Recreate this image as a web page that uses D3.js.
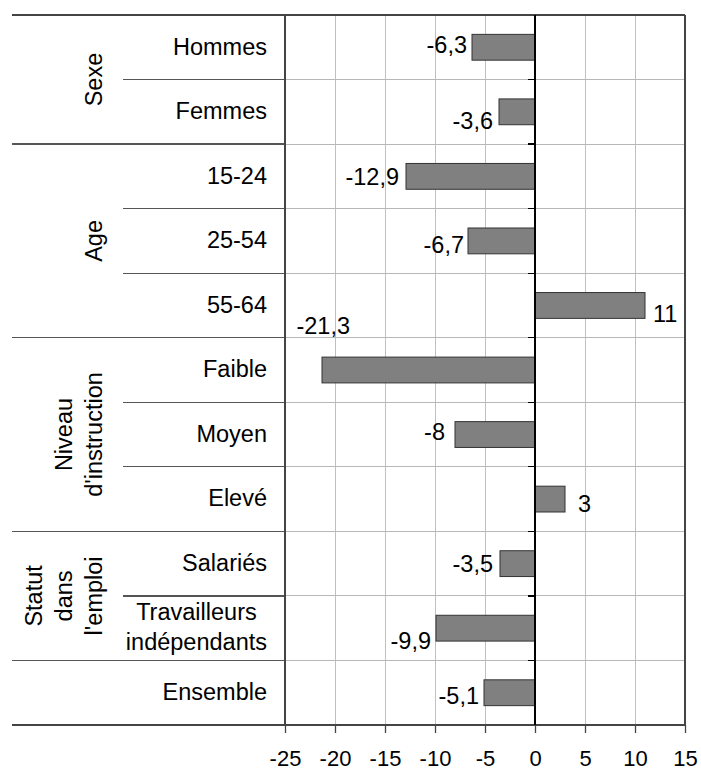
<!DOCTYPE html>
<html>
<head>
<meta charset="utf-8">
<script src="https://cdn.jsdelivr.net/npm/d3@7"></script>
<style>
  html, body { margin: 0; padding: 0; background: #fff; }
  svg { display: block; font-family: "Liberation Sans", Arial, sans-serif; }
</style>
</head>
<body>
<svg id="chart" width="701" height="771"></svg>
<script>
// ---- data ----
const categories = ["Hommes", "Femmes", "15-24", "25-54", "55-64", "Faible", "Moyen", "Elevé", "Salariés", "Travailleurs\nindépendants", "Ensemble"];
const values = [-6.3, -3.6, -12.9, -6.7, 11, -21.3, -8, 3, -3.5, -9.9, -5.1];
const groups = [
  { label: ["Sexe"], start: 0, end: 1 },
  { label: ["Age"], start: 2, end: 4 },
  { label: ["Niveau", "d'instruction"], start: 5, end: 7 },
  { label: ["Statut", "dans", "l'emploi"], start: 8, end: 9 },
  { label: [""], start: 10, end: 10 }
];
const xTicks = [-25, -20, -15, -10, -5, 0, 5, 10, 15];
// label nudges (layout only): [dx, dy] in px from default label position
const labelNudge = [[1, -3], [0, 9], [-1, 0], [2, 4], [2, 8], [34, -44], [-4, -3], [7, 4], [-1, 0], [1, 12], [1, 3]];

// ---- layout ----
const fontSize = 23.5;
const tickFont = 22;
const plotLeft = 285, plotRight = 685, plotTop = 15, plotBottom = 725;
const svg = d3.select("#chart");

const x = d3.scaleLinear().domain([-25, 15]).range([plotLeft, plotRight]);
const y = d3.scaleBand().domain(d3.range(categories.length)).range([plotTop, plotBottom]).padding(0);
const bw = y.bandwidth();
const barH = bw * 0.4;

// vertical gridlines
svg.append("g").selectAll("line").data(xTicks).join("line")
  .attr("x1", d => x(d)).attr("x2", d => x(d))
  .attr("y1", plotTop).attr("y2", plotBottom)
  .attr("stroke", "#c0c0c0").attr("stroke-width", 1).attr("shape-rendering", "crispEdges");

// horizontal gridlines in plot at band boundaries
const bounds = d3.range(1, categories.length);
svg.append("g").selectAll("line").data(bounds).join("line")
  .attr("x1", plotLeft).attr("x2", plotRight)
  .attr("y1", d => y(d)).attr("y2", d => y(d))
  .attr("stroke", "#b8b8b8").attr("stroke-width", 1).attr("shape-rendering", "crispEdges");

// category-area separators
const groupStarts = new Set(groups.map(g => g.start));
svg.append("g").selectAll("line").data(bounds).join("line")
  .attr("x1", d => groupStarts.has(d) ? 12 : 123).attr("x2", plotLeft)
  .attr("y1", d => y(d)).attr("y2", d => y(d))
  .attr("stroke", "#555").attr("stroke-width", 1.3).attr("shape-rendering", "crispEdges");

// top and bottom full lines
[plotTop, plotBottom].forEach(v => {
  svg.append("line").attr("x1", 12).attr("x2", plotRight).attr("y1", v).attr("y2", v)
    .attr("stroke", "#444").attr("stroke-width", 1.3).attr("shape-rendering", "crispEdges");
});
// right border
svg.append("line").attr("x1", plotRight).attr("x2", plotRight).attr("y1", plotTop).attr("y2", plotBottom)
  .attr("stroke", "#444").attr("stroke-width", 1.3).attr("shape-rendering", "crispEdges");
// left axis line
svg.append("line").attr("x1", plotLeft).attr("x2", plotLeft).attr("y1", plotTop).attr("y2", plotBottom)
  .attr("stroke", "#444").attr("stroke-width", 1.3).attr("shape-rendering", "crispEdges");

// bars
svg.append("g").selectAll("rect").data(values).join("rect")
  .attr("x", d => Math.min(x(0), x(d)))
  .attr("width", d => Math.abs(x(d) - x(0)))
  .attr("y", (d, i) => y(i) + (bw - barH) / 2)
  .attr("height", barH)
  .attr("fill", "#808080").attr("stroke", "#333").attr("stroke-width", 1);

// zero line with left ticks
svg.append("line").attr("x1", x(0)).attr("x2", x(0)).attr("y1", plotTop).attr("y2", plotBottom)
  .attr("stroke", "#000").attr("stroke-width", 1.3).attr("shape-rendering", "crispEdges");
svg.append("g").selectAll("line").data(bounds).join("line")
  .attr("x1", x(0) - 7).attr("x2", x(0))
  .attr("y1", d => y(d)).attr("y2", d => y(d))
  .attr("stroke", "#000").attr("stroke-width", 1.3).attr("shape-rendering", "crispEdges");

// bottom axis
const xAxis = d3.axisBottom(x).tickValues(xTicks).tickSize(8).tickPadding(17)
  .tickFormat(d => String(d));
const ax = svg.append("g").attr("transform", `translate(0,${plotBottom})`).call(xAxis);
ax.select(".domain").remove();
ax.selectAll(".tick line").attr("stroke", "#444").attr("stroke-width", 1.3);
ax.selectAll(".tick text").attr("font-size", tickFont).attr("fill", "#000")
  .attr("font-family", "Liberation Sans, Arial, sans-serif");

// value labels
svg.append("g").selectAll("text").data(values).join("text")
  .attr("x", (d, i) => (d < 0 ? x(d) - 6 : x(d) + 6) + labelNudge[i][0])
  .attr("y", (d, i) => y(i) + bw / 2 + labelNudge[i][1])
  .attr("dy", "0.36em")
  .attr("text-anchor", d => d < 0 ? "end" : "start")
  .attr("font-size", fontSize).attr("fill", "#000")
  .text(d => String(d).replace(".", ","));

// category labels
const catRight = 267;
const lineH = 30;
categories.forEach((c, i) => {
  const lines = c.split("\n");
  const cy = y(i) + bw / 2;
  if (lines.length === 1) {
    svg.append("text").attr("x", catRight).attr("y", cy).attr("dy", "0.31em")
      .attr("text-anchor", "end").attr("font-size", fontSize).text(c);
  } else {
    const g = svg.append("g");
    const ts = lines.map((l, k) => g.append("text")
      .attr("y", cy + (k - (lines.length - 1) / 2) * lineH).attr("dy", "0.31em")
      .attr("text-anchor", "middle").attr("font-size", fontSize).text(l));
    const maxW = d3.max(ts, t => t.node().getComputedTextLength());
    ts.forEach(t => t.attr("x", catRight - maxW / 2));
  }
});

// group labels (rotated)
const groupBaseline = 102;
groups.forEach(gr => {
  const cy = (y(gr.start) + y(gr.end) + bw) / 2;
  const n = gr.label.length;
  gr.label.forEach((l, k) => {
    const bx = groupBaseline - (n - 1 - k) * lineH;
    svg.append("text")
      .attr("transform", `translate(${bx},${cy}) rotate(-90)`)
      .attr("text-anchor", "middle").attr("font-size", fontSize).text(l);
  });
});
</script>
</body>
</html>
